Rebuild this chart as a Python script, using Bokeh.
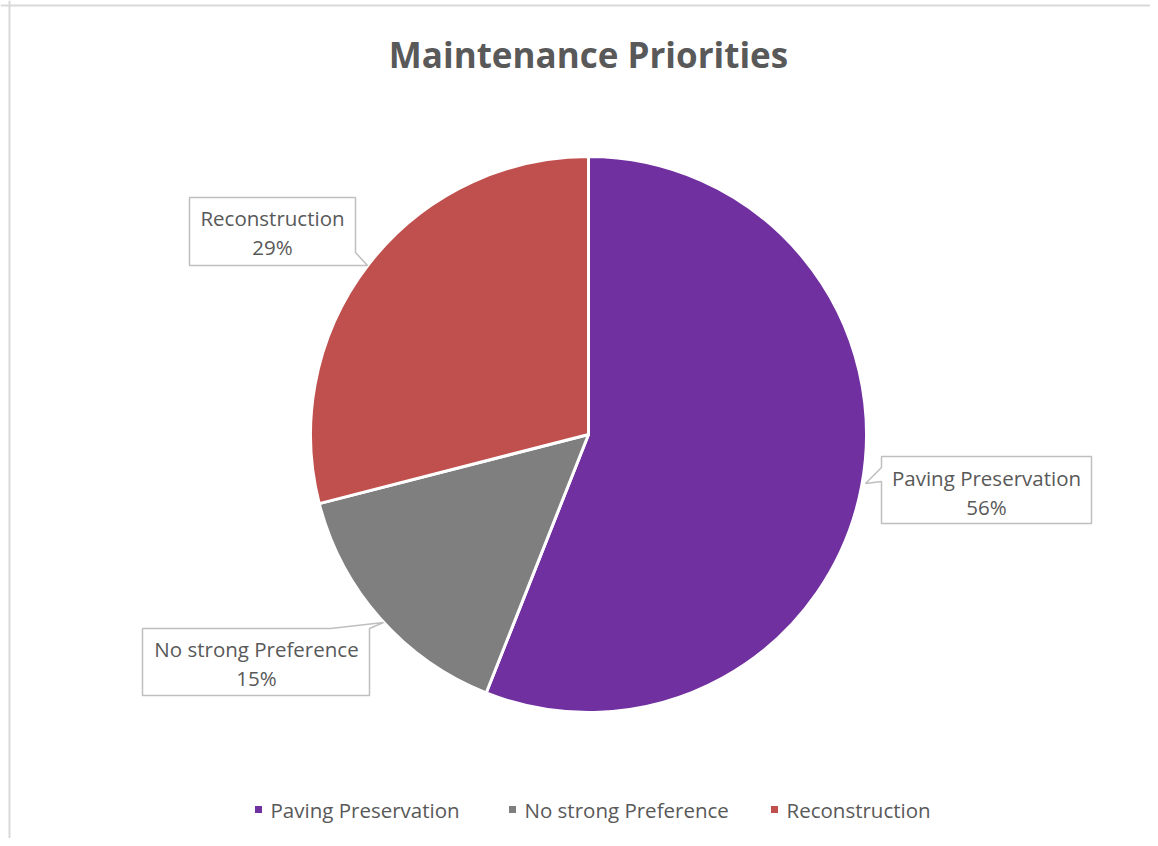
import math
from bokeh.plotting import figure
from bokeh.models import Range1d, Span, ColumnDataSource
from bokeh.core.properties import value
from bokeh.embed import file_html
from bokeh.resources import INLINE

# ---- data ----
categories = ["Paving Preservation", "No strong Preference", "Reconstruction"]
percents = [56, 15, 29]
colors = ["#7030A0", "#7F7F7F", "#C0504D"]
title_text = "Maintenance Priorities"

W, H = 1150, 838
FONT = "Open Sans"
TXT = "#595959"

def sy(y):  # screen y -> data y
    return H - y

p = figure(width=W, height=H, output_backend="svg", toolbar_location=None,
           x_range=Range1d(0, W), y_range=Range1d(0, H), min_border=0,
           background_fill_color="white", border_fill_color="white",
           outline_line_color=None)
p.axis.visible = False
p.grid.visible = False

# chart border (left + top)
p.add_layout(Span(location=9, dimension="height", line_color="#d9d9d9", line_width=2))
p.add_layout(Span(location=sy(5), dimension="width", line_color="#d9d9d9", line_width=2))

# ---- pie ----
cx, cy, r = 588, sy(434), 278
total = sum(percents)
starts, ends = [], []
cum = 0
for v in percents:
    starts.append(math.pi / 2 - 2 * math.pi * cum / total)
    cum += v
    ends.append(math.pi / 2 - 2 * math.pi * cum / total)
src = ColumnDataSource(dict(start=starts, end=ends, color=colors))
p.wedge(x=cx, y=cy, radius=r, start_angle="start", end_angle="end",
        direction="clock", fill_color="color", line_color="white",
        line_width=3, source=src)

# ---- title ----
p.text(x=[588], y=[sy(54)], text=[title_text], text_font=value(FONT),
       text_font_style="bold", text_font_size="35px", text_color=TXT,
       text_align="center", text_baseline="middle")

# ---- callout labels ----
boxes = [
    # Paving Preservation
    [(881, 456), (1091, 456), (1091, 523), (881, 523), (881, 481), (865, 483), (881, 467)],
    # No strong Preference
    [(142, 628), (330, 628), (383, 622), (369, 628), (369, 695), (142, 695)],
    # Reconstruction
    [(189, 197), (355, 197), (355, 252), (367, 265), (355, 265), (189, 265)],
]
label_centers = [(986, 477, 506), (256, 648, 677), (272, 217, 246)]
for poly in boxes:
    p.patch([pt[0] for pt in poly], [sy(pt[1]) for pt in poly],
            fill_color="white", line_color="#bfbfbf", line_width=1.5)
for (lx, ly1, ly2), name, pc in zip(label_centers, categories, percents):
    p.text(x=[lx, lx], y=[sy(ly1), sy(ly2)], text=[name, f"{pc}%"],
           text_font=value(FONT), text_font_size="20.5px", text_color=TXT,
           text_align="center", text_baseline="middle")

# ---- legend ----
leg_x = [258, 512, 774]
leg_y = sy(809)
p.rect(x=leg_x, y=[leg_y] * 3, width=7, height=7, fill_color=colors, line_color=None)
p.text(x=[x + 12 for x in leg_x], y=[leg_y] * 3, text=categories,
       text_font=value(FONT), text_font_size="20.5px", text_color=TXT,
       text_align="left", text_baseline="middle")

open("out.html", "w").write(file_html(p, INLINE))
